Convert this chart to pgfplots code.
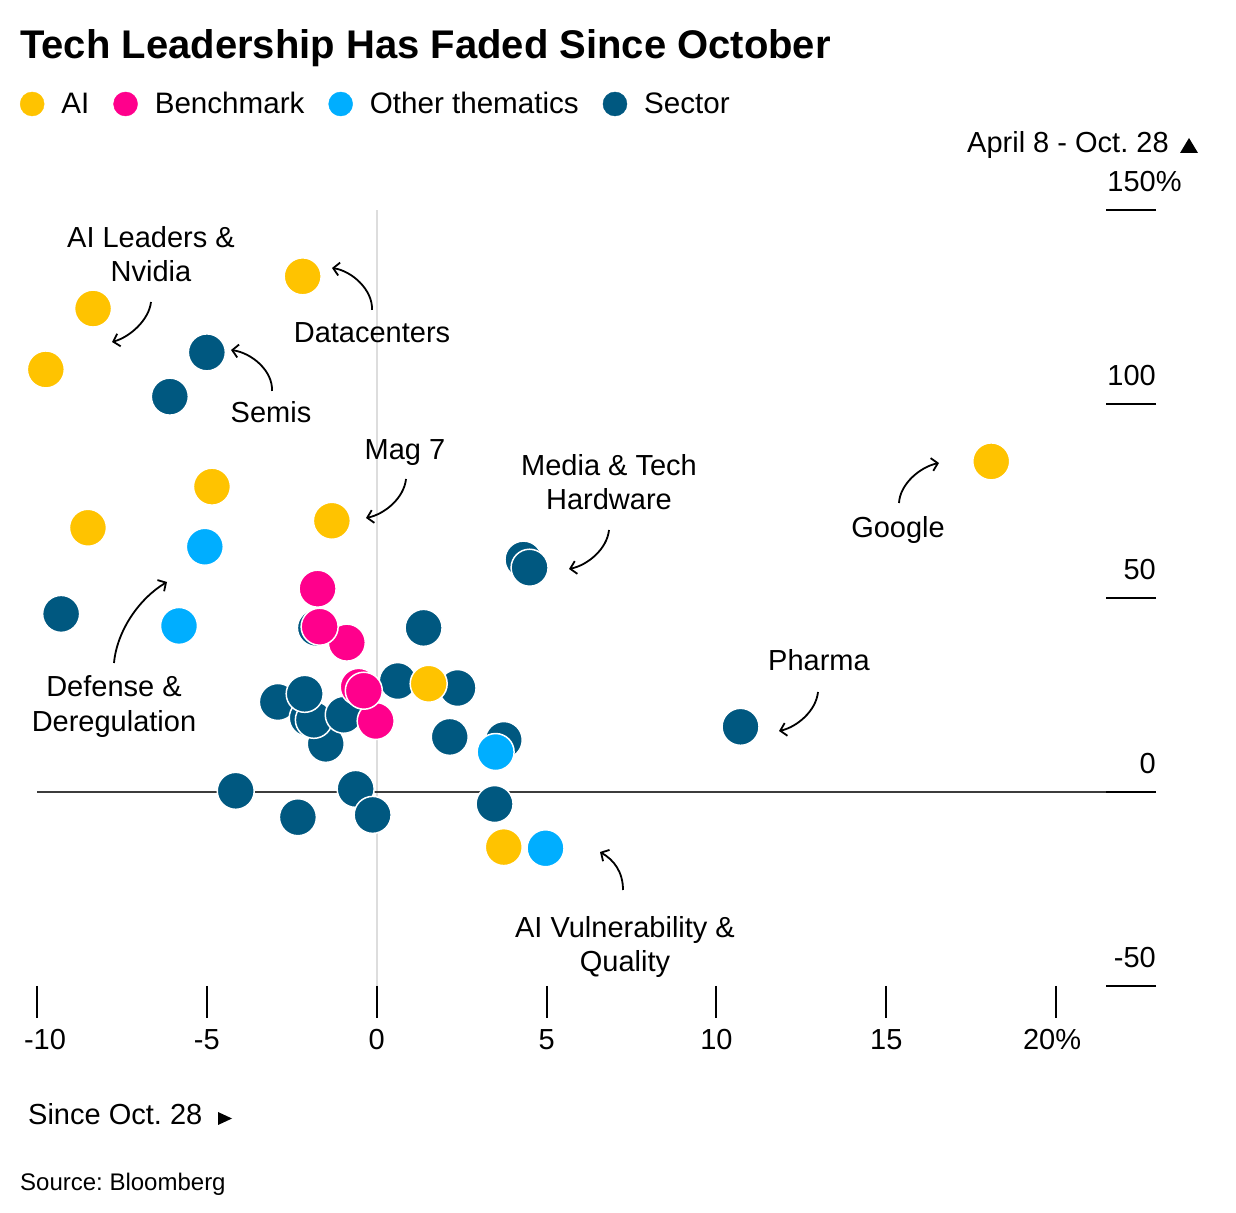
\documentclass[border=0pt]{standalone}
\usepackage{fontspec}
\setmainfont{Liberation Sans}
\usepackage{pgfplots}
\pgfplotsset{compat=1.18}
\usetikzlibrary{arrows.meta}
\definecolor{aiY}{RGB}{255,195,0}
\definecolor{bmP}{RGB}{255,0,140}
\definecolor{otB}{RGB}{0,174,255}
\definecolor{secD}{RGB}{0,88,128}
\definecolor{zeroH}{RGB}{60,60,60}
\definecolor{zeroV}{RGB}{221,221,221}
\newcommand{\fs}{\fontsize{29}{34}\selectfont}
\begin{document}
\frenchspacing
\begin{tikzpicture}
\useasboundingbox (0,0) rectangle (1236pt,1212pt);
\begin{axis}[
  at={(37pt,226pt)}, anchor=south west,
  scale only axis, width=1119pt, height=776pt,
  xmin=-10, xmax=22.94, ymin=-50, ymax=150,
  clip=false,
  axis line style={draw=none},
  major tick length=0pt,
  tick style={draw=none},
  xtick={-10,-5,0,5,10,15,20},
  xticklabels={\hspace*{16pt}-10,-5,0,5,10,15,\hspace*{-8pt}20\%},
  ytick={-50,0,50,100,150},
  yticklabels={-50,0,50,100,150\rlap{\%}},
  yticklabel pos=right,
  xticklabel style={font=\fs, anchor=base, yshift=-64pt, inner sep=0pt},
  yticklabel style={font=\fs, anchor=base east, yshift=18pt, xshift=0pt, inner sep=0pt},
  legend style={at={(-0.0152,1.1366)}, anchor=west, draw=none, fill=none,
    font=\fontsize{29.6}{34}\selectfont,
    inner sep=0pt, outer sep=0pt, nodes={inner sep=0pt},
    /tikz/every odd column/.append style={column sep=17pt},
    /tikz/every even column/.append style={column sep=24pt}},
  legend cell align=left,
  legend columns=4,
  legend entries={AI,Benchmark,Other thematics,Sector},
]
\addlegendimage{legend image code/.code={\fill[aiY] (12pt,0pt) circle (12pt);}}
\addlegendimage{legend image code/.code={\fill[bmP] (12pt,0pt) circle (12pt);}}
\addlegendimage{legend image code/.code={\fill[otB] (12pt,0pt) circle (12pt);}}
\addlegendimage{legend image code/.code={\fill[secD] (12pt,0pt) circle (12pt);}}

% reference lines
\draw[zeroV, line width=2pt] (axis cs:0,-50) -- (axis cs:0,150);
\draw[zeroH, line width=1.6pt] (axis cs:-10,0) -- (axis cs:22.94,0);
% x tick marks
\draw[black, line width=2pt] (axis cs:-10,-50) -- ++(0pt,-32pt);
\draw[black, line width=2pt] (axis cs:-5,-50) -- ++(0pt,-32pt);
\draw[black, line width=2pt] (axis cs:0,-50) -- ++(0pt,-32pt);
\draw[black, line width=2pt] (axis cs:5,-50) -- ++(0pt,-32pt);
\draw[black, line width=2pt] (axis cs:10,-50) -- ++(0pt,-32pt);
\draw[black, line width=2pt] (axis cs:15,-50) -- ++(0pt,-32pt);
\draw[black, line width=2pt] (axis cs:20,-50) -- ++(0pt,-32pt);
% y tick marks
\draw[black, line width=2pt] (axis cs:22.94,150) -- ++(-50pt,0pt);
\draw[black, line width=2pt] (axis cs:22.94,100) -- ++(-50pt,0pt);
\draw[black, line width=2pt] (axis cs:22.94,50) -- ++(-50pt,0pt);
\draw[black, line width=2pt] (axis cs:22.94,0) -- ++(-50pt,0pt);
\draw[black, line width=2pt] (axis cs:22.94,-50) -- ++(-50pt,0pt);

% Sector
\addplot[forget plot, only marks, mark=*, mark size=18.5pt,
  mark options={draw=white, fill=secD, line width=1.5pt}] coordinates {
(-1.50,12.4) (-2.91,23.2) (-2.03,19.1) (-1.85,18.6) (-2.12,25.3) (-0.97,19.9)
(-5.00,113.3) (-6.09,101.9) (-9.29,45.9) (4.32,59.9) (4.50,57.8)
(-1.79,42.3) (1.38,42.3) (0.62,28.6) (2.38,26.8) (2.15,14.2) (3.74,13.4)
(10.71,16.8) (-4.15,0.3) (-2.32,-6.5) (-0.62,0.8) (-0.12,-5.9) (3.47,-3.1)
};
% AI
\addplot[forget plot, only marks, mark=*, mark size=18.5pt,
  mark options={draw=white, fill=aiY, line width=1.5pt}] coordinates {
(-2.18,132.9) (-8.35,124.6) (-9.74,108.9) (-4.85,78.7) (-8.50,68.1)
(-1.32,69.9) (1.53,27.9) (18.09,85.2) (3.74,-14.2)
};
% Benchmark
\addplot[forget plot, only marks, mark=*, mark size=18.5pt,
  mark options={draw=white, fill=bmP, line width=1.5pt}] coordinates {
(-0.03,18.3) (-0.88,38.5) (-1.74,52.4) (-0.53,27.1) (-0.38,26.1) (-1.68,42.6)
};
% Other thematics
\addplot[forget plot, only marks, mark=*, mark size=18.5pt,
  mark options={draw=white, fill=otB, line width=1.5pt}] coordinates {
(-5.06,63.2) (-5.82,42.8) (3.50,10.3) (4.97,-14.5)
};
\end{axis}

\begin{scope}[x=1pt, y=-1pt, shift={(0pt,1212pt)}]
% title
\node[anchor=base west, inner sep=0pt, font=\fontsize{40}{48}\selectfont\bfseries] at (20,59) {Tech Leadership Has Faded Since October};
% axis captions
\node[anchor=base west, inner sep=0pt, font=\fs] at (967,153) {April 8 - Oct. 28};
\fill (1180,153) -- (1198,153) -- (1189,138) -- cycle;
\node[anchor=base west, inner sep=0pt, font=\fs] at (28,1125) {Since Oct. 28};
\fill (218,1112) -- (232,1118.5) -- (218,1125) -- cycle;
\node[anchor=base west, inner sep=0pt, font=\fontsize{24}{29}\selectfont] at (20,1190) {Source: Bloomberg};
% annotations
\node[anchor=base, inner sep=0pt, font=\fs] at (151,248) {AI Leaders \&};
\node[anchor=base, inner sep=0pt, font=\fs] at (151,282) {Nvidia};
\node[anchor=base, inner sep=0pt, font=\fs] at (372,343) {Datacenters};
\node[anchor=base, inner sep=0pt, font=\fs] at (271,423) {Semis};
\node[anchor=base, inner sep=0pt, font=\fs] at (405,460) {Mag 7};
\node[anchor=base, inner sep=0pt, font=\fs] at (609,476) {Media \& Tech};
\node[anchor=base, inner sep=0pt, font=\fs] at (609,510) {Hardware};
\node[anchor=base, inner sep=0pt, font=\fs] at (898,538) {Google};
\node[anchor=base, inner sep=0pt, font=\fs] at (819,671) {Pharma};
\node[anchor=base, inner sep=0pt, font=\fs] at (114,697) {Defense \&};
\node[anchor=base, inner sep=0pt, font=\fs] at (114,732) {Deregulation};
\node[anchor=base, inner sep=0pt, font=\fs] at (625,938) {AI Vulnerability \&};
\node[anchor=base, inner sep=0pt, font=\fs] at (625,972) {Quality};
% arrows
\tikzset{ann/.style={line width=1.8pt, -{Straight Barb[length=6pt, width=13pt, line width=1.8pt]}}}
\draw[ann] (151,302) .. controls (149,320) and (130,337) .. (112,342);
\draw[ann] (372,310) .. controls (373,290) and (352,271) .. (332,268);
\draw[ann] (272,391) .. controls (273,371) and (252,353) .. (231,350);
\draw[ann] (406,479) .. controls (404,498) and (385,514) .. (366,518);
\draw[ann] (609,530) .. controls (607,549) and (588,565) .. (569,569);
\draw[ann] (899,503) .. controls (900,484) and (920,467) .. (939,463);
\draw[ann] (818,692) .. controls (816,711) and (797,727) .. (779,731);
\draw[ann] (114,663) .. controls (117,630) and (140,598) .. (167,582);
\draw[ann] (623,890) .. controls (623,872) and (614,860) .. (600,852);
\end{scope}
\end{tikzpicture}
\end{document}
